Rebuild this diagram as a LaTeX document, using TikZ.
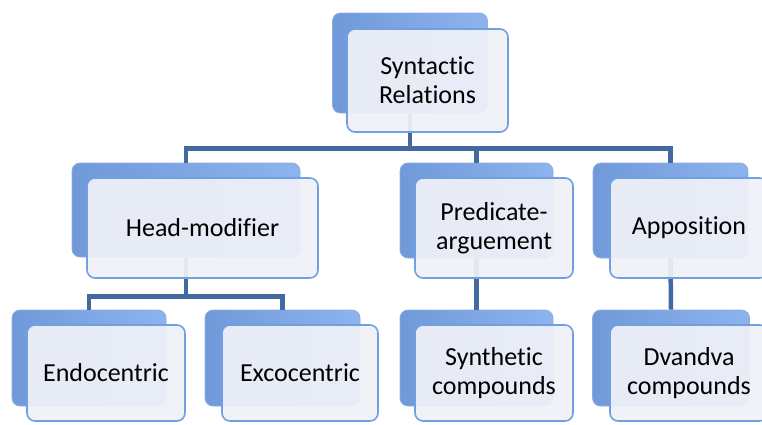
\documentclass[tikz,border=0pt]{standalone}
\usepackage{fontspec}
\setmainfont{Carlito}[Ligatures=NoCommon]
\usepackage{xcolor}
\usepackage{tikz}
\usetikzlibrary{positioning}

\definecolor{linkblue}{RGB}{66,106,160}
\definecolor{backdark}{RGB}{112,153,218}
\definecolor{backlight}{RGB}{142,180,238}
\definecolor{cardfill}{RGB}{239,241,248}
\definecolor{cardedge}{RGB}{112,160,224}

\begin{document}
\begin{tikzpicture}[
        x=1pt, y=-1pt,
        back/.style={rectangle, rounded corners=8pt, draw=backdark!80, line width=0.8pt,
            left color=backdark, right color=backlight,
            minimum width=155pt, minimum height=96pt, inner sep=0pt},
        card/.style={rectangle, rounded corners=8pt, draw=cardedge, line width=1.6pt,
            fill=cardfill, fill opacity=0.93, text opacity=1, align=center,
            font=\fontsize{26}{29}\selectfont,
            minimum width=158pt, minimum height=100pt, inner sep=0pt},
        link/.style={draw=linkblue, line width=4.5pt}
    ]
        \useasboundingbox (0,0) rectangle (762,424);

        % back boxes
        \node[back, minimum height=100pt] (syn-b) at (410,63) {};
        \node[back, minimum width=228pt, minimum height=94pt] (head-b) at (186,210) {};
        \node[back, minimum width=153pt, minimum height=95pt] (pred-b) at (476.5,210.5) {};
        \node[back, minimum height=95pt] (appo-b) at (670.5,210.5) {};
        \node[back, minimum width=154pt] (endo-b) at (89,358) {};
        \node[back] (exo-b) at (282.5,358) {};
        \node[back, minimum width=153pt] (synth-b) at (476.5,358) {};
        \node[back, minimum width=157pt] (dvan-b) at (671,358) {};

        % links
        \draw[link] (syn-b.south) -- ++(0,35) -| (head-b.north);
        \draw[link] (syn-b.south) -- ++(0,35) -| (pred-b.north);
        \draw[link] (syn-b.south) -- ++(0,35) -| (appo-b.north);
        \draw[link] (head-b.south) -- ++(0,39) -| (endo-b.north);
        \draw[link] (head-b.south) -- ++(0,39) -| (exo-b.north);
        \draw[link] (pred-b.south) -- (synth-b.north);
        \draw[link] (appo-b.south) -- (dvan-b.north);

        % front boxes
        \node[card, minimum width=161pt, minimum height=103pt] (syn) at (427.5,80.5) {Syntactic\\Relations};
        \node[card, minimum width=231pt] (head) at (202.5,228) {Head-modifier};
        \node[card] (pred) at (494,228) {Predicate-\\arguement};
        \node[card] (appo) at (689,228) {Apposition};
        \node[card, minimum height=96pt] (endo) at (106,373) {Endocentric};
        \node[card, minimum width=156pt, minimum height=96pt] (exo) at (300,373) {Excocentric};
        \node[card, minimum height=96pt] (synth) at (494,373) {Synthetic\\compounds};
        \node[card, minimum height=96pt] (dvan) at (689,373) {Dvandva\\compounds};
    \end{tikzpicture}
\end{document}
